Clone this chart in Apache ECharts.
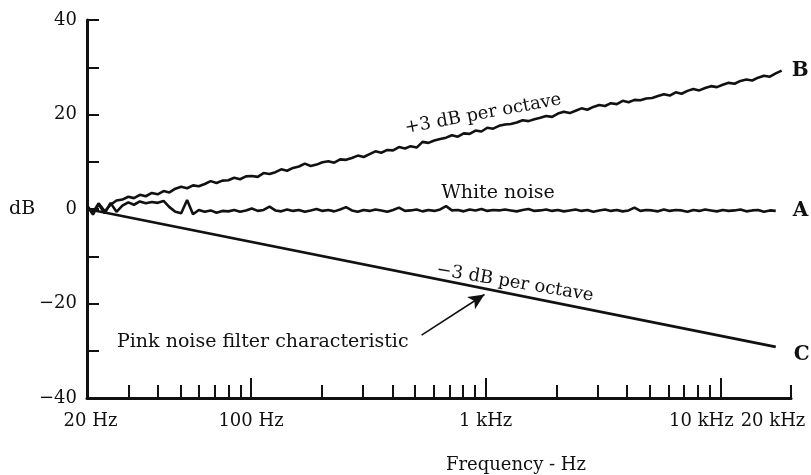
<!DOCTYPE html>
<html>
<head>
<meta charset="utf-8">
<script src="https://cdn.jsdelivr.net/npm/echarts@6/dist/echarts.min.js"></script>
<style>
  html, body { margin: 0; padding: 0; background: #fff; }
  #chart { width: 811px; height: 475px; }
</style>
</head>
<body>
<div id="chart"></div>
<script>
// Measurement bins, 1/12 octave from 20 Hz (Hz)
const freqs = [
  20, 21.2, 22.4, 23.8, 25.2, 26.7, 28.3, 30.0, 31.7, 33.6, 35.6, 37.8,
  40, 42.4, 44.9, 47.6, 50.4, 53.4, 56.6, 59.9, 63.5, 67.3, 71.3, 75.5,
  80, 84.8, 89.8, 95.1, 100.8, 106.8, 113.1, 119.9, 127, 134.5, 142.5, 151,
  160, 169.5, 179.6, 190.3, 201.6, 213.6, 226.3, 239.7, 254, 269.1, 285.1, 302,
  320, 339, 359, 381, 403, 427, 453, 479, 508, 538, 570, 604,
  640, 678, 718, 761, 806, 854, 905, 959, 1016, 1076, 1140, 1208,
  1280, 1356, 1437, 1522, 1613, 1709, 1810, 1918, 2032, 2153, 2281, 2416,
  2560, 2712, 2874, 3044, 3225, 3417, 3620, 3836, 4064, 4305, 4561, 4833,
  5120, 5424, 5747, 6089, 6451, 6834, 7241, 7671, 8127, 8611, 9123, 9665,
  10240, 10849, 11494, 12177, 12901, 13668, 14481, 15342, 16254, 17221, 18245
];

// B: noise rising +3 dB per octave (dB)
const seriesB = [
  0.6, -0.8, 1.2, -0.5, 0.9, 1.8, 2.0, 2.6, 2.3, 3.0, 2.7, 3.4,
  3.1, 3.8, 3.5, 4.3, 4.7, 4.4, 5.0, 4.8, 5.3, 5.9, 5.5, 6.0,
  6.1, 6.6, 6.3, 6.9, 7.0, 6.8, 7.6, 7.4, 7.8, 8.4, 8.1, 8.7,
  9.0, 9.6, 9.1, 9.4, 9.9, 10.1, 9.8, 10.5, 10.4, 10.8, 11.3, 11.0,
  11.6, 12.2, 11.9, 12.5, 12.4, 13.1, 12.8, 13.3, 13.0, 14.2, 14.0, 14.5,
  14.8, 15.1, 15.6, 15.3, 16.0, 15.9, 16.6, 16.4, 17.2, 17.0, 17.6, 17.9,
  18.0, 18.3, 18.8, 18.6, 19.0, 19.3, 19.7, 19.5, 20.2, 20.6, 20.3, 20.8,
  21.3, 21.0, 21.6, 22.0, 21.8, 22.4, 22.2, 22.9, 22.6, 23.1, 23.0, 23.4,
  23.5, 23.9, 24.3, 24.0, 24.7, 24.4, 25.0, 25.4, 25.1, 25.6, 26.0, 25.8,
  26.3, 26.7, 26.5, 27.1, 27.4, 27.2, 27.8, 28.2, 28.0, 28.7, 29.3
];

// A: white noise, flat (dB)
const seriesA = [
  0.8, -1.2, 1.0, -0.9, 1.3, -0.6, 0.7, 1.4, 0.9, 1.6, 1.2, 1.5,
  1.3, 1.7, 0.4, -0.6, -0.9, 1.9, -1.1, -0.2, -0.6, -0.3, -0.8, -0.4,
  -0.5, -0.2, -0.6, -0.3, 0.1, -0.4, -0.2, 0.5, -0.3, -0.5, -0.1, -0.4,
  -0.2, -0.6, -0.3, 0.0, -0.4, -0.2, -0.5, -0.1, 0.4, -0.3, -0.6, -0.2,
  -0.4, -0.1, -0.3, -0.6, -0.2, 0.3, -0.4, -0.3, -0.1, -0.5, -0.2, -0.4,
  -0.1, 0.6, -0.3, -0.2, -0.5, -0.1, -0.3, 0.0, -0.4, -0.2, -0.3, -0.1,
  -0.3, -0.5, -0.2, 0.0, -0.4, -0.3, -0.1, -0.4, -0.2, -0.5, -0.3, -0.1,
  -0.4, -0.2, -0.6, -0.3, -0.1, -0.4, -0.2, -0.5, -0.3, 0.3, -0.4, -0.2,
  -0.3, -0.5, -0.1, -0.4, -0.2, -0.3, -0.6, -0.2, -0.4, -0.1, -0.3, -0.5,
  -0.2, -0.4, -0.3, -0.1, -0.5, -0.3, -0.2, -0.6, -0.3, -0.4
];

// C: pink noise filter, -3 dB per octave (straight line on log frequency)
const freqsC = [20, 17221];
const seriesC = [0, -29.2];

// Arrow pointing at the filter line: [Hz, dB] tail and head
const arrowTail = [533, -26.7];
const arrowHead = [988, -18.1];

// Axis ticks and labels
const xLabelValues = [20, 100, 1000, 10000, 20000];
const xLabelTexts = ['20 Hz', '100 Hz', '1 kHz', '10 kHz', '20 kHz'];
const xMajorTicks = [100, 1000, 10000];
const xMinorTicks = [30, 40, 50, 60, 70, 80, 90,
  200, 300, 400, 500, 600, 700, 800, 900,
  2000, 3000, 4000, 5000, 6000, 7000, 8000, 9000, 20000];
const yLabelValues = [-40, -20, 0, 20, 40];

const INK = '#111';
const FONT = '"DejaVu Serif", "Liberation Serif", serif';

const pairsB = freqs.map((f, i) => [f, seriesB[i]]);
const pairsA = seriesA.map((v, i) => [freqs[i], v]);
const pairsC = freqsC.map((f, i) => [f, seriesC[i]]);

// Per-label nudges so neighbouring labels at the right end don't collide
const labelStyleKey = { 20: 'l', 10000: 'k', 20000: 'm' };

const chart = echarts.init(document.getElementById('chart'), null, { renderer: 'canvas' });

const baseX = {
  type: 'log',
  logBase: 10,
  min: 20,
  max: 20000,
  position: 'bottom',
  gridIndex: 0,
  splitLine: { show: false },
  minorTick: { show: false },
  minorSplitLine: { show: false }
};

chart.setOption({
  backgroundColor: '#fff',
  animation: false,
  grid: { left: 87, right: 20, top: 20, bottom: 77, containLabel: false, outerBoundsMode: 'none' },
  xAxis: [
    Object.assign({}, baseX, {
      axisLine: { show: true, onZero: false, lineStyle: { color: INK, width: 3 } },
      axisTick: { show: true, inside: true, length: 20, customValues: xMajorTicks,
        lineStyle: { color: INK, width: 2 } },
      axisLabel: {
        show: true,
        customValues: xLabelValues,
        margin: 14,
        color: INK,
        fontFamily: FONT,
        fontSize: 18,
        formatter: function (v) {
          let idx = -1;
          xLabelValues.forEach((x, i) => { if (Math.abs(x - v) / x < 1e-6) idx = i; });
          if (idx < 0) return '';
          const key = labelStyleKey[xLabelValues[idx]];
          return key ? '{' + key + '|' + xLabelTexts[idx] + '}' : xLabelTexts[idx];
        },
        rich: {
          l: { fontFamily: FONT, fontSize: 18, color: INK, padding: [0, 0, 0, 7] },
          k: { fontFamily: FONT, fontSize: 18, color: INK, padding: [0, 38, 0, 0] },
          m: { fontFamily: FONT, fontSize: 18, color: INK, padding: [0, 36, 0, 0] }
        }
      }
    }),
    Object.assign({}, baseX, {
      axisLine: { show: false, onZero: false },
      axisTick: { show: true, inside: true, length: 13, customValues: xMinorTicks,
        lineStyle: { color: INK, width: 2 } },
      axisLabel: { show: false }
    })
  ],
  yAxis: {
    type: 'value',
    min: -40,
    max: 40,
    interval: 10,
    splitLine: { show: false },
    axisLine: { show: true, onZero: false, lineStyle: { color: INK, width: 3 } },
    axisTick: { show: true, inside: true, length: 12, lineStyle: { color: INK, width: 2 } },
    axisLabel: {
      customValues: yLabelValues,
      margin: 10,
      color: INK,
      fontFamily: FONT,
      fontSize: 18,
      formatter: v => (v < 0 ? '\u2212' + Math.abs(v) : String(v))
    }
  },
  series: [
    {
      name: 'B',
      type: 'line',
      xAxisIndex: 0,
      data: pairsB,
      showSymbol: false,
      symbol: 'none',
      lineStyle: { color: INK, width: 2.6 },
      endLabel: { show: true, formatter: 'B', distance: 10, color: INK,
        fontFamily: FONT, fontSize: 20, fontWeight: 'bold' }
    },
    {
      name: 'A',
      type: 'line',
      xAxisIndex: 0,
      data: pairsA,
      showSymbol: false,
      symbol: 'none',
      lineStyle: { color: INK, width: 2.6 },
      endLabel: { show: true, formatter: 'A', distance: 17, color: INK,
        fontFamily: FONT, fontSize: 20, fontWeight: 'bold' }
    },
    {
      name: 'C',
      type: 'line',
      xAxisIndex: 0,
      data: pairsC,
      showSymbol: false,
      symbol: 'none',
      lineStyle: { color: INK, width: 2.8 },
      endLabel: { show: true, formatter: 'C', distance: 18, offset: [0, 8], color: INK,
        fontFamily: FONT, fontSize: 20, fontWeight: 'bold' },
      markLine: {
        silent: true,
        symbol: ['none', 'arrow'],
        symbolSize: [11, 16],
        label: { show: false },
        lineStyle: { color: INK, width: 1.6, type: 'solid' },
        data: [[{ coord: arrowTail }, { coord: arrowHead }]]
      }
    }
  ],
  graphic: [
    { type: 'text', left: 9, top: 200, style: { text: 'dB', fill: INK, font: '19px ' + FONT } },
    { type: 'text', x: 516, y: 465, style: { text: 'Frequency - Hz', fill: INK,
        font: '18px ' + FONT, align: 'center', verticalAlign: 'middle' } },
    { type: 'text', x: 483, y: 114, rotation: 10.5 * Math.PI / 180,
      style: { text: '+3 dB per octave', fill: INK, font: '18px ' + FONT,
        align: 'center', verticalAlign: 'middle' } },
    { type: 'text', x: 498, y: 193, style: { text: 'White noise', fill: INK,
        font: '19px ' + FONT, align: 'center', verticalAlign: 'middle' } },
    { type: 'text', x: 515, y: 283, rotation: -9.5 * Math.PI / 180,
      style: { text: '\u22123 dB per octave', fill: INK, font: '18px ' + FONT,
        align: 'center', verticalAlign: 'middle' } },
    { type: 'text', x: 117, y: 342, style: { text: 'Pink noise filter characteristic', fill: INK,
        font: '19px ' + FONT, align: 'left', verticalAlign: 'middle' } }
  ]
});
</script>
</body>
</html>
